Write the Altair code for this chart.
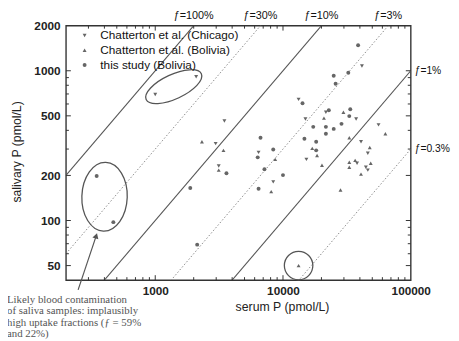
import altair as alt
import pandas as pd

# ---------------- data ----------------
chi_serum = [1000, 2090, 3480, 2970, 3140, 13250, 14990, 6440, 15250, 21670, 37380,
             55980, 40820, 46150, 38020, 44570, 46150, 41500, 8390]
chi_saliva = [695, 912, 462, 326, 231, 644, 476, 285, 256, 529, 476,
              435, 336, 281, 241, 227, 217, 1076, 181]
bol_serum = [13250, 2320, 3420, 3140, 16940, 8690, 29730, 20930, 63340, 33040, 47780,
             18490, 36730, 33040, 48640, 33040, 20190, 40820, 8090, 28200]
bol_saliva = [50, 336, 294, 217, 303, 256, 529, 483, 380, 357, 307,
              272, 252, 245, 241, 227, 234, 204, 156, 160]
this_serum = [348, 470, 2130, 1880, 3610, 14220, 17250, 6670, 14720, 18190, 8390,
              18190, 6340, 7160, 10000, 22850, 33630, 33040, 28710, 21670, 24950,
              21670, 38730, 24950, 32460, 25830, 6440]
this_saliva = [198, 97.5, 69, 165, 207, 607, 422, 357, 352, 336, 298,
               294, 264, 220, 201, 545, 554, 498, 442, 422, 409,
               380, 1479, 926, 969, 820, 163]

groups = ["Chatterton et al. (Chicago)", "Chatterton et al. (Bolivia)", "this study (Bolivia)"]

f_solid = [1.0, 0.1, 0.01]
f_dotted = [0.3, 0.03, 0.003]
f_top = [1.0, 0.3, 0.1, 0.03]
f_top_labels = ["ƒ=100%", "ƒ=30%", "ƒ=10%", "ƒ=3%"]
f_right = [0.01, 0.003]
f_right_labels = ["ƒ=1%", "ƒ=0.3%"]

x_major = [1000, 10000, 100000]
x_minor = [300, 400, 500, 600, 700, 800, 900,
           2000, 3000, 4000, 5000, 6000, 7000, 8000, 9000,
           20000, 30000, 40000, 50000, 60000, 70000, 80000, 90000]
y_major = [50, 100, 200, 500, 1000, 2000]
y_minor = [60, 70, 80, 90, 300, 400, 600, 700, 800, 900]

# circled groups (centre serum, centre saliva)
ell1_center = (1396, 783)
ell2_center = (401, 144)
circ_center = (13250, 50)
arrow_from = (249, 34.4)
arrow_to = (345, 79)

note = "Likely blood contamination\nof saliva samples: implausibly\nhigh uptake fractions (ƒ = 59%\nand 22%)"

# ---------------- build ----------------
W, H = 351, 259
XMIN, XMAX = 200, 100000
YMIN, YMAX = 40, 2000
xs = alt.Scale(type="log", domain=[XMIN, XMAX])
ys = alt.Scale(type="log", domain=[YMIN, YMAX])
FONT = "Liberation Sans"

x_axis = alt.Axis(
    values=x_major, format="d", ticks=False, domain=False, grid=False,
    labelFont=FONT, labelFontSize=12, labelFontWeight="bold", labelColor="#222",
    labelPadding=6, labelFlush=False, labelOverlap=False,
    title="serum P (pmol/L)", titleFont=FONT, titleFontSize=12.5, titleFontWeight="normal",
    titleColor="#222", titleX=220, titleY=27, titleAlign="center", titleBaseline="middle")
y_axis = alt.Axis(
    values=y_major, format="d", ticks=False, domain=False, grid=False,
    labelFont=FONT, labelFontSize=12, labelFontWeight="bold", labelColor="#222",
    labelPadding=6, labelFlush=False, labelOverlap=False,
    title="salivary P (pmol/L)", titleFont=FONT, titleFontSize=12.5, titleFontWeight="normal",
    titleColor="#222", titleX=-50, titleY=128, titleAngle=-90, titleAlign="center",
    titleBaseline="middle")

X = alt.X("serum:Q", scale=xs, axis=x_axis)
Y = alt.Y("saliva:Q", scale=ys, axis=y_axis)

pts = pd.DataFrame({
    "serum": chi_serum + bol_serum + this_serum,
    "saliva": chi_saliva + bol_saliva + this_saliva,
    "group": [groups[0]] * len(chi_serum) + [groups[1]] * len(bol_serum) + [groups[2]] * len(this_serum),
})


def fline_df(fs):
    rows = []
    for f in fs:
        rows.append({"f": f, "serum": XMIN, "saliva": XMIN * f})
        rows.append({"f": f, "serum": XMAX, "saliva": XMAX * f})
    return pd.DataFrame(rows)


solid = alt.Chart(fline_df(f_solid)).mark_line(clip=True, color="#555", strokeWidth=1.1).encode(
    x=X, y=Y, detail="f:N")
dotted = alt.Chart(fline_df(f_dotted)).mark_line(clip=True, color="#8a8a8a", strokeWidth=1,
                                                 strokeDash=[1.5, 2]).encode(
    x=X, y=Y, detail="f:N")

legend = alt.Legend(title=None, orient="none", legendX=13, legendY=4,
                    labelFont=FONT, labelFontSize=12, labelColor="#111",
                    rowPadding=3, labelOffset=10, padding=0)

points = alt.Chart(pts).mark_point(filled=True, color="#666", opacity=1).encode(
    x=X, y=Y,
    shape=alt.Shape("group:N", scale=alt.Scale(domain=groups,
                                                range=["triangle-down", "triangle-up", "circle"]),
                    legend=legend),
    size=alt.Size("group:N", scale=alt.Scale(domain=groups, range=[16, 16, 32]), legend=legend),
)

ELL1 = "M-1,0A1,0.4,0,1,0,1,0A1,0.4,0,1,0,-1,0Z"
ELL2 = "M-1,0A1,0.66,0,1,0,1,0A1,0.66,0,1,0,-1,0Z"


def one(cx, cy):
    return pd.DataFrame({"serum": [cx], "saliva": [cy]})


ell1 = alt.Chart(one(*ell1_center)).mark_point(
    shape=ELL1, size=3844, angle=335, filled=False, stroke="#555", strokeWidth=1.3, opacity=1
).encode(x=X, y=Y)
ell2 = alt.Chart(one(*ell2_center)).mark_point(
    shape=ELL2, size=4900, angle=92, filled=False, stroke="#555", strokeWidth=1.3, opacity=1
).encode(x=X, y=Y)
circ = alt.Chart(one(*circ_center)).mark_point(
    shape="circle", size=841, filled=False, stroke="#555", strokeWidth=1.3, opacity=1
).encode(x=X, y=Y)

arrow_df = pd.DataFrame({"serum": [arrow_from[0]], "saliva": [arrow_from[1]],
                         "serum2": [arrow_to[0]], "saliva2": [arrow_to[1]]})
arrow = alt.Chart(arrow_df).mark_rule(color="#555", strokeWidth=1.2).encode(
    x=X, y=Y, x2="serum2:Q", y2="saliva2:Q")
head = alt.Chart(one(*arrow_to)).mark_point(
    shape="triangle-up", size=40, angle=18, filled=True, color="#555", opacity=1
).encode(x=X, y=Y)


def xticks(vals, length, top):
    return alt.Chart(pd.DataFrame({"serum": vals})).mark_rule(color="#333", strokeWidth=1).encode(
        x=X, y=alt.value(0 if top else H), y2=alt.value(length if top else H - length))


def yticks(vals, length, right):
    return alt.Chart(pd.DataFrame({"saliva": vals})).mark_rule(color="#333", strokeWidth=1).encode(
        y=Y, x=alt.value(W if right else 0), x2=alt.value(W - length if right else length))


ticks = [xticks(x_major[:-1], 5, False), xticks(x_minor, 3, False),
         xticks(x_major[:-1], 5, True), xticks(x_minor, 3, True),
         yticks(y_major[:-1], 5, False), yticks(y_minor, 3, False),
         yticks(y_major[:-1], 5, True), yticks(y_minor, 3, True)]

top_df = pd.DataFrame({"serum": [YMAX / f for f in f_top], "saliva": [YMAX] * len(f_top),
                       "lab": f_top_labels})
top_txt = alt.Chart(top_df).mark_text(font=FONT, fontSize=11, color="#111", align="center",
                                      baseline="alphabetic", dy=-7).encode(
    x=X, y=Y, text="lab:N")
right_df = pd.DataFrame({"serum": [XMAX] * len(f_right), "saliva": [XMAX * f for f in f_right],
                         "lab": f_right_labels})
right_txt = alt.Chart(right_df).mark_text(font=FONT, fontSize=10.5, color="#111", align="left",
                                          baseline="middle", dx=4).encode(
    x=X, y=Y, text="lab:N")

note_txt = alt.Chart(pd.DataFrame({"t": [note]})).mark_text(
    font="Liberation Serif", fontSize=11, color="#555", align="left", baseline="top",
    lineBreak="\n", lineHeight=11.7).encode(x=alt.value(-60), y=alt.value(273), text="t:N")

chart = alt.layer(
    dotted, solid, ell1, ell2, circ, arrow, head, points, *ticks, top_txt, right_txt, note_txt
).properties(
    width=W, height=H,
    autosize=alt.AutoSizeParams(type="none"),
    padding={"left": 59, "top": 15, "right": 41, "bottom": 59},
).configure_view(stroke="#333", strokeWidth=1.4)

chart.save("out.html", embed_options={"renderer": "svg", "actions": False})
